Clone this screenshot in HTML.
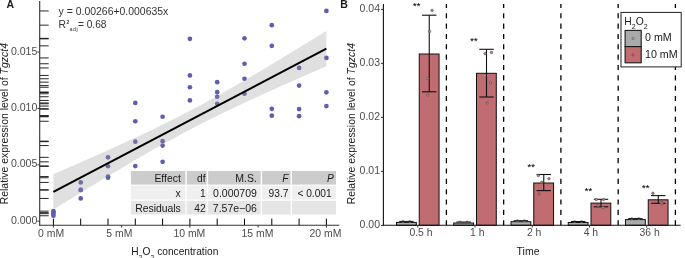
<!DOCTYPE html>
<html><head><meta charset="utf-8"><style>
html,body{margin:0;padding:0;background:#fff;overflow:hidden;}
svg{display:block;font-family:"Liberation Sans", sans-serif;}
</style></head><body><div style="will-change:transform">
<svg width="685" height="258" viewBox="0 0 685 258">
<rect width="685" height="258" fill="#fff"/>
<line x1="39.7" x2="48.7" y1="211.15" y2="211.15" stroke="#000" stroke-opacity="0.85" stroke-width="1"/>
<line x1="39.7" x2="48.7" y1="212.65" y2="212.65" stroke="#000" stroke-opacity="0.85" stroke-width="1"/>
<line x1="39.7" x2="48.7" y1="213.65" y2="213.65" stroke="#000" stroke-opacity="0.85" stroke-width="1"/>
<line x1="39.7" x2="48.7" y1="215.75" y2="215.75" stroke="#000" stroke-opacity="0.85" stroke-width="1"/>
<line x1="39.7" x2="48.7" y1="182.45" y2="182.45" stroke="#000" stroke-opacity="0.85" stroke-width="1"/>
<line x1="39.7" x2="48.7" y1="189.95" y2="189.95" stroke="#000" stroke-opacity="0.85" stroke-width="1"/>
<line x1="39.7" x2="48.7" y1="189.95" y2="189.95" stroke="#000" stroke-opacity="0.85" stroke-width="1"/>
<line x1="39.7" x2="48.7" y1="198.45" y2="198.45" stroke="#000" stroke-opacity="0.85" stroke-width="1"/>
<line x1="39.7" x2="48.7" y1="157.35" y2="157.35" stroke="#000" stroke-opacity="0.85" stroke-width="1"/>
<line x1="39.7" x2="48.7" y1="166.25" y2="166.25" stroke="#000" stroke-opacity="0.85" stroke-width="1"/>
<line x1="39.7" x2="48.7" y1="176.55" y2="176.55" stroke="#000" stroke-opacity="0.85" stroke-width="1"/>
<line x1="39.7" x2="48.7" y1="177.75" y2="177.75" stroke="#000" stroke-opacity="0.85" stroke-width="1"/>
<line x1="39.7" x2="48.7" y1="102.95" y2="102.95" stroke="#000" stroke-opacity="0.85" stroke-width="1"/>
<line x1="39.7" x2="48.7" y1="121.25" y2="121.25" stroke="#000" stroke-opacity="0.85" stroke-width="1"/>
<line x1="39.7" x2="48.7" y1="141.65" y2="141.65" stroke="#000" stroke-opacity="0.85" stroke-width="1"/>
<line x1="39.7" x2="48.7" y1="166.05" y2="166.05" stroke="#000" stroke-opacity="0.85" stroke-width="1"/>
<line x1="39.7" x2="48.7" y1="116.75" y2="116.75" stroke="#000" stroke-opacity="0.85" stroke-width="1"/>
<line x1="39.7" x2="48.7" y1="141.15" y2="141.15" stroke="#000" stroke-opacity="0.85" stroke-width="1"/>
<line x1="39.7" x2="48.7" y1="145.55" y2="145.55" stroke="#000" stroke-opacity="0.85" stroke-width="1"/>
<line x1="39.7" x2="48.7" y1="161.85" y2="161.85" stroke="#000" stroke-opacity="0.85" stroke-width="1"/>
<line x1="39.7" x2="48.7" y1="38.85" y2="38.85" stroke="#000" stroke-opacity="0.85" stroke-width="1"/>
<line x1="39.7" x2="48.7" y1="75.45" y2="75.45" stroke="#000" stroke-opacity="0.85" stroke-width="1"/>
<line x1="39.7" x2="48.7" y1="87.25" y2="87.25" stroke="#000" stroke-opacity="0.85" stroke-width="1"/>
<line x1="39.7" x2="48.7" y1="100.45" y2="100.45" stroke="#000" stroke-opacity="0.85" stroke-width="1"/>
<line x1="39.7" x2="48.7" y1="82.15" y2="82.15" stroke="#000" stroke-opacity="0.85" stroke-width="1"/>
<line x1="39.7" x2="48.7" y1="92.15" y2="92.15" stroke="#000" stroke-opacity="0.85" stroke-width="1"/>
<line x1="39.7" x2="48.7" y1="96.75" y2="96.75" stroke="#000" stroke-opacity="0.85" stroke-width="1"/>
<line x1="39.7" x2="48.7" y1="103.75" y2="103.75" stroke="#000" stroke-opacity="0.85" stroke-width="1"/>
<line x1="39.7" x2="48.7" y1="38.35" y2="38.35" stroke="#000" stroke-opacity="0.85" stroke-width="1"/>
<line x1="39.7" x2="48.7" y1="63.75" y2="63.75" stroke="#000" stroke-opacity="0.85" stroke-width="1"/>
<line x1="39.7" x2="48.7" y1="78.75" y2="78.75" stroke="#000" stroke-opacity="0.85" stroke-width="1"/>
<line x1="39.7" x2="48.7" y1="93.75" y2="93.75" stroke="#000" stroke-opacity="0.85" stroke-width="1"/>
<line x1="39.7" x2="48.7" y1="25.15" y2="25.15" stroke="#000" stroke-opacity="0.85" stroke-width="1"/>
<line x1="39.7" x2="48.7" y1="45.85" y2="45.85" stroke="#000" stroke-opacity="0.85" stroke-width="1"/>
<line x1="39.7" x2="48.7" y1="108.85" y2="108.85" stroke="#000" stroke-opacity="0.85" stroke-width="1"/>
<line x1="39.7" x2="48.7" y1="115.65" y2="115.65" stroke="#000" stroke-opacity="0.85" stroke-width="1"/>
<line x1="39.7" x2="48.7" y1="67.95" y2="67.95" stroke="#000" stroke-opacity="0.85" stroke-width="1"/>
<line x1="39.7" x2="48.7" y1="85.55" y2="85.55" stroke="#000" stroke-opacity="0.85" stroke-width="1"/>
<line x1="39.7" x2="48.7" y1="109.05" y2="109.05" stroke="#000" stroke-opacity="0.85" stroke-width="1"/>
<line x1="39.7" x2="48.7" y1="116.15" y2="116.15" stroke="#000" stroke-opacity="0.85" stroke-width="1"/>
<line x1="39.7" x2="48.7" y1="10.95" y2="10.95" stroke="#000" stroke-opacity="0.85" stroke-width="1"/>
<line x1="39.7" x2="48.7" y1="57.95" y2="57.95" stroke="#000" stroke-opacity="0.85" stroke-width="1"/>
<line x1="39.7" x2="48.7" y1="92.35" y2="92.35" stroke="#000" stroke-opacity="0.85" stroke-width="1"/>
<line x1="39.7" x2="48.7" y1="106.05" y2="106.05" stroke="#000" stroke-opacity="0.85" stroke-width="1"/>
<line x1="53.40" x2="53.40" y1="218.6" y2="225.3" stroke="#000" stroke-width="1"/>
<line x1="80.70" x2="80.70" y1="218.6" y2="225.3" stroke="#000" stroke-width="1"/>
<line x1="108.00" x2="108.00" y1="218.6" y2="225.3" stroke="#000" stroke-width="1"/>
<line x1="135.30" x2="135.30" y1="218.6" y2="225.3" stroke="#000" stroke-width="1"/>
<line x1="162.60" x2="162.60" y1="218.6" y2="225.3" stroke="#000" stroke-width="1"/>
<line x1="189.90" x2="189.90" y1="218.6" y2="225.3" stroke="#000" stroke-width="1"/>
<line x1="217.20" x2="217.20" y1="218.6" y2="225.3" stroke="#000" stroke-width="1"/>
<line x1="244.50" x2="244.50" y1="218.6" y2="225.3" stroke="#000" stroke-width="1"/>
<line x1="271.80" x2="271.80" y1="218.6" y2="225.3" stroke="#000" stroke-width="1"/>
<line x1="299.10" x2="299.10" y1="218.6" y2="225.3" stroke="#000" stroke-width="1"/>
<line x1="326.40" x2="326.40" y1="218.6" y2="225.3" stroke="#000" stroke-width="1"/>
<circle cx="53.40" cy="211.15" r="2.35" fill="#5e5eae"/>
<circle cx="53.40" cy="212.65" r="2.35" fill="#5e5eae"/>
<circle cx="53.40" cy="213.65" r="2.35" fill="#5e5eae"/>
<circle cx="53.40" cy="215.75" r="2.35" fill="#5e5eae"/>
<circle cx="80.70" cy="182.45" r="2.35" fill="#5e5eae"/>
<circle cx="80.70" cy="189.95" r="2.35" fill="#5e5eae"/>
<circle cx="80.70" cy="189.95" r="2.35" fill="#5e5eae"/>
<circle cx="80.70" cy="198.45" r="2.35" fill="#5e5eae"/>
<circle cx="108.00" cy="157.35" r="2.35" fill="#5e5eae"/>
<circle cx="108.00" cy="166.25" r="2.35" fill="#5e5eae"/>
<circle cx="108.00" cy="176.55" r="2.35" fill="#5e5eae"/>
<circle cx="108.00" cy="177.75" r="2.35" fill="#5e5eae"/>
<circle cx="135.30" cy="102.95" r="2.35" fill="#5e5eae"/>
<circle cx="135.30" cy="121.25" r="2.35" fill="#5e5eae"/>
<circle cx="135.30" cy="141.65" r="2.35" fill="#5e5eae"/>
<circle cx="135.30" cy="166.05" r="2.35" fill="#5e5eae"/>
<circle cx="162.60" cy="116.75" r="2.35" fill="#5e5eae"/>
<circle cx="162.60" cy="141.15" r="2.35" fill="#5e5eae"/>
<circle cx="162.60" cy="145.55" r="2.35" fill="#5e5eae"/>
<circle cx="162.60" cy="161.85" r="2.35" fill="#5e5eae"/>
<circle cx="189.90" cy="38.85" r="2.35" fill="#5e5eae"/>
<circle cx="189.90" cy="75.45" r="2.35" fill="#5e5eae"/>
<circle cx="189.90" cy="87.25" r="2.35" fill="#5e5eae"/>
<circle cx="189.90" cy="100.45" r="2.35" fill="#5e5eae"/>
<circle cx="217.20" cy="82.15" r="2.35" fill="#5e5eae"/>
<circle cx="217.20" cy="92.15" r="2.35" fill="#5e5eae"/>
<circle cx="217.20" cy="96.75" r="2.35" fill="#5e5eae"/>
<circle cx="217.20" cy="103.75" r="2.35" fill="#5e5eae"/>
<circle cx="244.50" cy="38.35" r="2.35" fill="#5e5eae"/>
<circle cx="244.50" cy="63.75" r="2.35" fill="#5e5eae"/>
<circle cx="244.50" cy="78.75" r="2.35" fill="#5e5eae"/>
<circle cx="244.50" cy="93.75" r="2.35" fill="#5e5eae"/>
<circle cx="271.80" cy="25.15" r="2.35" fill="#5e5eae"/>
<circle cx="271.80" cy="45.85" r="2.35" fill="#5e5eae"/>
<circle cx="271.80" cy="108.85" r="2.35" fill="#5e5eae"/>
<circle cx="271.80" cy="115.65" r="2.35" fill="#5e5eae"/>
<circle cx="299.10" cy="67.95" r="2.35" fill="#5e5eae"/>
<circle cx="299.10" cy="85.55" r="2.35" fill="#5e5eae"/>
<circle cx="299.10" cy="109.05" r="2.35" fill="#5e5eae"/>
<circle cx="299.10" cy="116.15" r="2.35" fill="#5e5eae"/>
<circle cx="326.40" cy="10.95" r="2.35" fill="#5e5eae"/>
<circle cx="326.40" cy="57.95" r="2.35" fill="#5e5eae"/>
<circle cx="326.40" cy="92.35" r="2.35" fill="#5e5eae"/>
<circle cx="326.40" cy="106.05" r="2.35" fill="#5e5eae"/>
<polygon fill="#999999" fill-opacity="0.3" points="53.40,174.18 54.77,173.59 56.13,173.00 57.49,172.41 58.86,171.82 60.23,171.23 61.59,170.63 62.95,170.04 64.32,169.45 65.69,168.85 67.05,168.26 68.42,167.67 69.78,167.07 71.14,166.48 72.51,165.88 73.88,165.28 75.24,164.69 76.61,164.09 77.97,163.49 79.34,162.89 80.70,162.30 82.06,161.70 83.43,161.10 84.80,160.50 86.16,159.89 87.53,159.29 88.89,158.69 90.25,158.09 91.62,157.48 92.99,156.88 94.35,156.27 95.72,155.67 97.08,155.06 98.44,154.45 99.81,153.85 101.17,153.24 102.54,152.63 103.91,152.02 105.27,151.40 106.64,150.79 108.00,150.18 109.37,149.57 110.73,148.95 112.09,148.33 113.46,147.72 114.83,147.10 116.19,146.48 117.56,145.86 118.92,145.24 120.28,144.62 121.65,144.00 123.02,143.37 124.38,142.75 125.75,142.12 127.11,141.49 128.47,140.86 129.84,140.23 131.21,139.60 132.57,138.97 133.94,138.33 135.30,137.70 136.67,137.06 138.03,136.42 139.40,135.78 140.76,135.14 142.12,134.50 143.49,133.85 144.85,133.20 146.22,132.56 147.59,131.91 148.95,131.26 150.31,130.60 151.68,129.95 153.05,129.29 154.41,128.63 155.78,127.97 157.14,127.31 158.50,126.64 159.87,125.98 161.24,125.31 162.60,124.64 163.97,123.97 165.33,123.29 166.70,122.62 168.06,121.94 169.43,121.26 170.79,120.57 172.16,119.89 173.52,119.20 174.89,118.51 176.25,117.82 177.62,117.13 178.98,116.43 180.34,115.73 181.71,115.03 183.08,114.33 184.44,113.62 185.81,112.91 187.17,112.20 188.54,111.49 189.90,110.78 191.27,110.06 192.63,109.34 194.00,108.62 195.36,107.89 196.73,107.16 198.09,106.44 199.46,105.70 200.82,104.97 202.19,104.23 203.55,103.50 204.92,102.75 206.28,102.01 207.65,101.27 209.01,100.52 210.38,99.77 211.74,99.02 213.11,98.26 214.47,97.51 215.84,96.75 217.20,95.99 218.57,95.23 219.93,94.46 221.30,93.70 222.66,92.93 224.03,92.16 225.39,91.39 226.76,90.61 228.12,89.84 229.49,89.06 230.85,88.28 232.22,87.50 233.58,86.71 234.95,85.93 236.31,85.14 237.68,84.36 239.04,83.57 240.41,82.78 241.77,81.98 243.14,81.19 244.50,80.39 245.87,79.60 247.23,78.80 248.60,78.00 249.96,77.20 251.33,76.40 252.69,75.59 254.06,74.79 255.42,73.98 256.79,73.18 258.15,72.37 259.52,71.56 260.88,70.75 262.25,69.94 263.61,69.12 264.98,68.31 266.34,67.49 267.70,66.68 269.07,65.86 270.44,65.04 271.80,64.23 273.17,63.41 274.53,62.59 275.89,61.76 277.26,60.94 278.62,60.12 279.99,59.30 281.35,58.47 282.72,57.65 284.09,56.82 285.45,55.99 286.81,55.17 288.18,54.34 289.55,53.51 290.91,52.68 292.27,51.85 293.64,51.02 295.00,50.19 296.37,49.36 297.74,48.52 299.10,47.69 300.47,46.86 301.83,46.02 303.19,45.19 304.56,44.35 305.93,43.52 307.29,42.68 308.65,41.84 310.02,41.01 311.38,40.17 312.75,39.33 314.12,38.49 315.48,37.65 316.84,36.81 318.21,35.97 319.57,35.13 320.94,34.29 322.31,33.45 323.67,32.61 325.04,31.77 326.40,30.93 326.40,66.25 325.04,66.84 323.67,67.43 322.31,68.03 320.94,68.62 319.57,69.21 318.21,69.80 316.84,70.39 315.48,70.99 314.12,71.58 312.75,72.17 311.38,72.77 310.02,73.36 308.65,73.96 307.29,74.55 305.93,75.15 304.56,75.75 303.19,76.34 301.83,76.94 300.47,77.54 299.10,78.14 297.74,78.74 296.37,79.34 295.00,79.94 293.64,80.54 292.27,81.14 290.91,81.74 289.55,82.35 288.18,82.95 286.81,83.56 285.45,84.16 284.09,84.77 282.72,85.37 281.35,85.98 279.99,86.59 278.62,87.20 277.26,87.81 275.89,88.42 274.53,89.03 273.17,89.64 271.80,90.26 270.44,90.87 269.07,91.48 267.70,92.10 266.34,92.72 264.98,93.33 263.61,93.95 262.25,94.57 260.88,95.19 259.52,95.82 258.15,96.44 256.79,97.06 255.42,97.69 254.06,98.32 252.69,98.94 251.33,99.57 249.96,100.20 248.60,100.83 247.23,101.47 245.87,102.10 244.50,102.74 243.14,103.37 241.77,104.01 240.41,104.65 239.04,105.30 237.68,105.94 236.31,106.58 234.95,107.23 233.58,107.88 232.22,108.53 230.85,109.18 229.49,109.83 228.12,110.49 226.76,111.14 225.39,111.80 224.03,112.46 222.66,113.13 221.30,113.79 219.93,114.46 218.57,115.12 217.20,115.79 215.84,116.47 214.47,117.14 213.11,117.82 211.74,118.50 210.38,119.18 209.01,119.86 207.65,120.54 206.28,121.23 204.92,121.92 203.55,122.61 202.19,123.31 200.82,124.00 199.46,124.70 198.09,125.40 196.73,126.11 195.36,126.81 194.00,127.52 192.63,128.23 191.27,128.94 189.90,129.66 188.54,130.38 187.17,131.10 185.81,131.82 184.44,132.54 183.08,133.27 181.71,134.00 180.34,134.73 178.98,135.46 177.62,136.20 176.25,136.94 174.89,137.68 173.52,138.42 172.16,139.17 170.79,139.92 169.43,140.67 168.06,141.42 166.70,142.17 165.33,142.93 163.97,143.69 162.60,144.45 161.24,145.21 159.87,145.97 158.50,146.74 157.14,147.51 155.78,148.28 154.41,149.05 153.05,149.82 151.68,150.60 150.31,151.38 148.95,152.16 147.59,152.94 146.22,153.72 144.85,154.50 143.49,155.29 142.12,156.08 140.76,156.87 139.40,157.66 138.03,158.45 136.67,159.24 135.30,160.04 133.94,160.84 132.57,161.64 131.21,162.43 129.84,163.24 128.47,164.04 127.11,164.84 125.75,165.65 124.38,166.45 123.02,167.26 121.65,168.07 120.28,168.88 118.92,169.69 117.56,170.50 116.19,171.31 114.83,172.13 113.46,172.94 112.09,173.76 110.73,174.57 109.37,175.39 108.00,176.21 106.64,177.03 105.27,177.85 103.91,178.67 102.54,179.49 101.17,180.31 99.81,181.14 98.44,181.96 97.08,182.79 95.72,183.61 94.35,184.44 92.99,185.27 91.62,186.10 90.25,186.92 88.89,187.75 87.53,188.58 86.16,189.42 84.80,190.25 83.43,191.08 82.06,191.91 80.70,192.74 79.34,193.58 77.97,194.41 76.61,195.25 75.24,196.08 73.88,196.92 72.51,197.75 71.14,198.59 69.78,199.43 68.42,200.27 67.05,201.10 65.69,201.94 64.32,202.78 62.95,203.62 61.59,204.46 60.23,205.30 58.86,206.14 57.49,206.98 56.13,207.83 54.77,208.67 53.40,209.51"/>
<line x1="53.40" y1="191.85" x2="326.40" y2="48.59" stroke="#000" stroke-width="2"/>
<line x1="39.7" y1="1" x2="39.7" y2="225.8" stroke="#333" stroke-width="1.1"/>
<line x1="39.2" y1="225.3" x2="339.4" y2="225.3" stroke="#333" stroke-width="1.1"/>
<line x1="37.4" x2="39.7" y1="221.20" y2="221.20" stroke="#333" stroke-width="1"/>
<text x="37.4" y="223.80" text-anchor="end" font-size="10.6" fill="#4d4d4d">0.000</text>
<line x1="37.4" x2="39.7" y1="164.80" y2="164.80" stroke="#333" stroke-width="1"/>
<text x="37.4" y="167.40" text-anchor="end" font-size="10.6" fill="#4d4d4d">0.005</text>
<line x1="37.4" x2="39.7" y1="108.40" y2="108.40" stroke="#333" stroke-width="1"/>
<text x="37.4" y="111.00" text-anchor="end" font-size="10.6" fill="#4d4d4d">0.010</text>
<line x1="37.4" x2="39.7" y1="52.00" y2="52.00" stroke="#333" stroke-width="1"/>
<text x="37.4" y="54.60" text-anchor="end" font-size="10.6" fill="#4d4d4d">0.015</text>
<line x1="53.40" x2="53.40" y1="225.3" y2="227.6" stroke="#333" stroke-width="1"/>
<text x="51.05" y="236.6" text-anchor="middle" font-size="10.45" fill="#4d4d4d">0 mM</text>
<line x1="121.65" x2="121.65" y1="225.3" y2="227.6" stroke="#333" stroke-width="1"/>
<text x="119.30" y="236.6" text-anchor="middle" font-size="10.45" fill="#4d4d4d">5 mM</text>
<line x1="189.90" x2="189.90" y1="225.3" y2="227.6" stroke="#333" stroke-width="1"/>
<text x="189.35" y="236.6" text-anchor="middle" font-size="10.45" fill="#4d4d4d">10 mM</text>
<line x1="258.15" x2="258.15" y1="225.3" y2="227.6" stroke="#333" stroke-width="1"/>
<text x="257.50" y="236.6" text-anchor="middle" font-size="10.45" fill="#4d4d4d">15 mM</text>
<line x1="326.40" x2="326.40" y1="225.3" y2="227.6" stroke="#333" stroke-width="1"/>
<text x="325.50" y="236.6" text-anchor="middle" font-size="10.45" fill="#4d4d4d">20 mM</text>
<text x="131.2" y="254.5" font-size="10.2" fill="#1a1a1a">H<tspan font-size="7" dy="5.1">2</tspan><tspan dy="-5.1">O</tspan><tspan font-size="7" dy="5.1">2</tspan><tspan dy="-5.1"> concentration</tspan></text>
<text transform="translate(8.2,123.7) rotate(-90)" text-anchor="middle" font-size="10.45" fill="#1a1a1a">Relative expression level of <tspan font-style="italic">Tgzct4</tspan></text>
<text x="6.6" y="8.1" font-size="10.5" font-weight="bold" fill="#1a1a1a">A</text>
<text x="58.6" y="15.4" font-size="10.45" fill="#333">y = 0.00266+0.000635x</text>
<text x="58.4" y="28" font-size="10.3" fill="#333">R</text>
<text x="66.4" y="24" font-size="5" font-weight="bold" fill="#333">2</text>
<text x="69.6" y="31.1" font-size="5.4" letter-spacing="0.45" fill="#333">adj</text>
<text x="77.9" y="28" font-size="10.2" fill="#333">= 0.68</text>
<rect x="130.90" y="171.00" width="54.50" height="13.60" fill="#cccccc"/>
<rect x="186.80" y="171.00" width="19.90" height="13.60" fill="#cccccc"/>
<rect x="208.10" y="171.00" width="52.60" height="13.60" fill="#cccccc"/>
<rect x="262.10" y="171.00" width="28.40" height="13.60" fill="#cccccc"/>
<rect x="291.90" y="171.00" width="44.10" height="13.60" fill="#cccccc"/>
<rect x="130.90" y="185.70" width="54.50" height="13.80" fill="#efefef"/>
<rect x="186.80" y="185.70" width="19.90" height="13.80" fill="#efefef"/>
<rect x="208.10" y="185.70" width="52.60" height="13.80" fill="#efefef"/>
<rect x="262.10" y="185.70" width="28.40" height="13.80" fill="#efefef"/>
<rect x="291.90" y="185.70" width="44.10" height="13.80" fill="#efefef"/>
<rect x="130.90" y="200.80" width="54.50" height="13.70" fill="#e5e5e5"/>
<rect x="186.80" y="200.80" width="19.90" height="13.70" fill="#e5e5e5"/>
<rect x="208.10" y="200.80" width="52.60" height="13.70" fill="#e5e5e5"/>
<rect x="262.10" y="200.80" width="28.40" height="13.70" fill="#e5e5e5"/>
<rect x="291.90" y="200.80" width="44.10" height="13.70" fill="#e5e5e5"/>
<text x="180.80" y="181.50" text-anchor="end" font-size="10.4" fill="#1a1a1a">Effect</text>
<text x="205.60" y="181.50" text-anchor="end" font-size="10.2" fill="#1a1a1a">df</text>
<text x="256.90" y="181.50" text-anchor="end" font-size="10.5" fill="#1a1a1a">M.S.</text>
<text x="288.40" y="181.50" text-anchor="end" font-size="10.2" fill="#1a1a1a"><tspan font-style="italic">F</tspan></text>
<text x="333.70" y="181.50" text-anchor="end" font-size="10.2" fill="#1a1a1a"><tspan font-style="italic">P</tspan></text>
<text x="180.80" y="197.10" text-anchor="end" font-size="10.4" fill="#1a1a1a">x</text>
<text x="205.60" y="197.10" text-anchor="end" font-size="10.2" fill="#1a1a1a">1</text>
<text x="256.90" y="197.10" text-anchor="end" font-size="10.5" fill="#1a1a1a">0.000709</text>
<text x="288.40" y="197.10" text-anchor="end" font-size="10.2" fill="#1a1a1a">93.7</text>
<text x="331.70" y="197.10" text-anchor="end" font-size="10.2" fill="#1a1a1a">&lt; 0.001</text>
<text x="180.80" y="212.15" text-anchor="end" font-size="10.4" fill="#1a1a1a">Residuals</text>
<text x="205.60" y="212.15" text-anchor="end" font-size="10.2" fill="#1a1a1a">42</text>
<text x="256.90" y="212.15" text-anchor="end" font-size="10.5" fill="#1a1a1a">7.57e−06</text>
<line x1="446.40" x2="446.40" y1="4.1" y2="225.3" stroke="#000" stroke-width="1.3" stroke-dasharray="5.1 5.25" stroke-dashoffset="1.25"/>
<line x1="503.65" x2="503.65" y1="4.1" y2="225.3" stroke="#000" stroke-width="1.3" stroke-dasharray="5.1 5.25" stroke-dashoffset="1.25"/>
<line x1="560.90" x2="560.90" y1="4.1" y2="225.3" stroke="#000" stroke-width="1.3" stroke-dasharray="5.1 5.25" stroke-dashoffset="1.25"/>
<line x1="618.15" x2="618.15" y1="4.1" y2="225.3" stroke="#000" stroke-width="1.3" stroke-dasharray="5.1 5.25" stroke-dashoffset="1.25"/>
<line x1="675.40" x2="675.40" y1="4.1" y2="225.3" stroke="#000" stroke-width="1.3" stroke-dasharray="5.1 5.25" stroke-dashoffset="1.25"/>
<rect x="396.50" y="222.40" width="19.80" height="2.90" fill="#aaaaaa" stroke="#111" stroke-width="1"/>
<circle cx="402.90" cy="221.40" r="1.1" fill="#bbb" stroke="#666" stroke-width="0.5"/>
<circle cx="409.90" cy="221.40" r="1.1" fill="#bbb" stroke="#666" stroke-width="0.5"/>
<line x1="399.20" x2="413.60" y1="221.40" y2="221.40" stroke="#111" stroke-width="1"/>
<rect x="419.25" y="54.00" width="19.80" height="171.30" fill="#c06c71" stroke="#111" stroke-width="1"/>
<line x1="429.25" x2="429.25" y1="15.20" y2="91.80" stroke="#111" stroke-width="1.1"/>
<line x1="422.05" x2="436.45" y1="15.20" y2="15.20" stroke="#111" stroke-width="1.1"/>
<line x1="422.05" x2="436.45" y1="91.80" y2="91.80" stroke="#111" stroke-width="1.1"/>
<circle cx="432.10" cy="10.40" r="1.2" fill="#b88a8e" stroke="#5e5050" stroke-width="0.7"/>
<circle cx="429.60" cy="31.40" r="1.2" fill="#b88a8e" stroke="#5e5050" stroke-width="0.7"/>
<circle cx="427.80" cy="78.50" r="1.2" fill="#b88a8e" stroke="#5e5050" stroke-width="0.7"/>
<circle cx="427.80" cy="95.10" r="1.2" fill="#b88a8e" stroke="#5e5050" stroke-width="0.7"/>
<text x="416.65" y="9.25" text-anchor="middle" font-size="9.2" fill="#000" stroke="#000" stroke-width="0.1">**</text>
<rect x="453.75" y="223.00" width="19.80" height="2.30" fill="#aaaaaa" stroke="#111" stroke-width="1"/>
<circle cx="460.15" cy="222.00" r="1.1" fill="#bbb" stroke="#666" stroke-width="0.5"/>
<circle cx="467.15" cy="222.00" r="1.1" fill="#bbb" stroke="#666" stroke-width="0.5"/>
<line x1="456.45" x2="470.85" y1="222.00" y2="222.00" stroke="#111" stroke-width="1"/>
<rect x="476.50" y="73.30" width="19.80" height="152.00" fill="#c06c71" stroke="#111" stroke-width="1"/>
<line x1="486.50" x2="486.50" y1="49.30" y2="97.00" stroke="#111" stroke-width="1.1"/>
<line x1="479.30" x2="493.70" y1="49.30" y2="49.30" stroke="#111" stroke-width="1.1"/>
<line x1="479.30" x2="493.70" y1="97.00" y2="97.00" stroke="#111" stroke-width="1.1"/>
<circle cx="485.10" cy="53.60" r="1.2" fill="#b88a8e" stroke="#5e5050" stroke-width="0.7"/>
<circle cx="491.50" cy="52.50" r="1.2" fill="#b88a8e" stroke="#5e5050" stroke-width="0.7"/>
<circle cx="490.50" cy="82.90" r="1.2" fill="#b88a8e" stroke="#5e5050" stroke-width="0.7"/>
<circle cx="487.10" cy="102.90" r="1.2" fill="#b88a8e" stroke="#5e5050" stroke-width="0.7"/>
<text x="473.90" y="44.10" text-anchor="middle" font-size="9.2" fill="#000" stroke="#000" stroke-width="0.1">**</text>
<rect x="511.00" y="221.70" width="19.80" height="3.60" fill="#aaaaaa" stroke="#111" stroke-width="1"/>
<circle cx="517.40" cy="220.70" r="1.1" fill="#bbb" stroke="#666" stroke-width="0.5"/>
<circle cx="524.40" cy="220.70" r="1.1" fill="#bbb" stroke="#666" stroke-width="0.5"/>
<line x1="513.70" x2="528.10" y1="220.70" y2="220.70" stroke="#111" stroke-width="1"/>
<rect x="533.75" y="183.00" width="19.80" height="42.30" fill="#c06c71" stroke="#111" stroke-width="1"/>
<line x1="543.75" x2="543.75" y1="174.50" y2="190.60" stroke="#111" stroke-width="1.1"/>
<line x1="536.55" x2="550.95" y1="174.50" y2="174.50" stroke="#111" stroke-width="1.1"/>
<line x1="536.55" x2="550.95" y1="190.60" y2="190.60" stroke="#111" stroke-width="1.1"/>
<circle cx="538.30" cy="175.60" r="1.2" fill="#b88a8e" stroke="#5e5050" stroke-width="0.7"/>
<circle cx="548.90" cy="178.70" r="1.2" fill="#b88a8e" stroke="#5e5050" stroke-width="0.7"/>
<circle cx="541.70" cy="182.20" r="1.2" fill="#b88a8e" stroke="#5e5050" stroke-width="0.7"/>
<circle cx="539.00" cy="194.10" r="1.2" fill="#b88a8e" stroke="#5e5050" stroke-width="0.7"/>
<text x="531.15" y="169.90" text-anchor="middle" font-size="9.2" fill="#000" stroke="#000" stroke-width="0.1">**</text>
<rect x="568.25" y="222.50" width="19.80" height="2.80" fill="#aaaaaa" stroke="#111" stroke-width="1"/>
<circle cx="574.65" cy="221.50" r="1.1" fill="#bbb" stroke="#666" stroke-width="0.5"/>
<circle cx="581.65" cy="221.50" r="1.1" fill="#bbb" stroke="#666" stroke-width="0.5"/>
<line x1="570.95" x2="585.35" y1="221.50" y2="221.50" stroke="#111" stroke-width="1"/>
<rect x="591.00" y="203.10" width="19.80" height="22.20" fill="#c06c71" stroke="#111" stroke-width="1"/>
<line x1="601.00" x2="601.00" y1="199.30" y2="206.80" stroke="#111" stroke-width="1.1"/>
<line x1="593.80" x2="608.20" y1="199.30" y2="199.30" stroke="#111" stroke-width="1.1"/>
<line x1="593.80" x2="608.20" y1="206.80" y2="206.80" stroke="#111" stroke-width="1.1"/>
<circle cx="596.30" cy="199.50" r="1.2" fill="#b88a8e" stroke="#5e5050" stroke-width="0.7"/>
<circle cx="603.50" cy="199.50" r="1.2" fill="#b88a8e" stroke="#5e5050" stroke-width="0.7"/>
<circle cx="598.00" cy="205.50" r="1.2" fill="#b88a8e" stroke="#5e5050" stroke-width="0.7"/>
<circle cx="603.00" cy="207.50" r="1.2" fill="#b88a8e" stroke="#5e5050" stroke-width="0.7"/>
<text x="588.40" y="193.90" text-anchor="middle" font-size="9.2" fill="#000" stroke="#000" stroke-width="0.1">**</text>
<rect x="625.50" y="219.60" width="19.80" height="5.70" fill="#aaaaaa" stroke="#111" stroke-width="1"/>
<circle cx="631.90" cy="218.60" r="1.1" fill="#bbb" stroke="#666" stroke-width="0.5"/>
<circle cx="638.90" cy="218.60" r="1.1" fill="#bbb" stroke="#666" stroke-width="0.5"/>
<line x1="628.20" x2="642.60" y1="218.60" y2="218.60" stroke="#111" stroke-width="1"/>
<rect x="648.25" y="199.80" width="19.80" height="25.50" fill="#c06c71" stroke="#111" stroke-width="1"/>
<line x1="658.25" x2="658.25" y1="195.60" y2="203.30" stroke="#111" stroke-width="1.1"/>
<line x1="651.05" x2="665.45" y1="195.60" y2="195.60" stroke="#111" stroke-width="1.1"/>
<line x1="651.05" x2="665.45" y1="203.30" y2="203.30" stroke="#111" stroke-width="1.1"/>
<circle cx="652.90" cy="193.30" r="1.2" fill="#b88a8e" stroke="#5e5050" stroke-width="0.7"/>
<circle cx="656.00" cy="201.50" r="1.2" fill="#b88a8e" stroke="#5e5050" stroke-width="0.7"/>
<circle cx="661.00" cy="202.50" r="1.2" fill="#b88a8e" stroke="#5e5050" stroke-width="0.7"/>
<circle cx="662.00" cy="204.00" r="1.2" fill="#b88a8e" stroke="#5e5050" stroke-width="0.7"/>
<text x="645.65" y="191.00" text-anchor="middle" font-size="9.2" fill="#000" stroke="#000" stroke-width="0.1">**</text>
<line x1="383.4" y1="4.1" x2="383.4" y2="225.8" stroke="#111" stroke-width="1.1"/>
<line x1="382.9" y1="225.3" x2="680.6" y2="225.3" stroke="#111" stroke-width="1.1"/>
<line x1="381" x2="383.4" y1="225.40" y2="225.40" stroke="#333" stroke-width="1"/>
<text x="380" y="228.00" text-anchor="end" font-size="10.5" fill="#4d4d4d">0.00</text>
<line x1="381" x2="383.4" y1="171.40" y2="171.40" stroke="#333" stroke-width="1"/>
<text x="380" y="174.00" text-anchor="end" font-size="10.5" fill="#4d4d4d">0.01</text>
<line x1="381" x2="383.4" y1="117.40" y2="117.40" stroke="#333" stroke-width="1"/>
<text x="380" y="120.00" text-anchor="end" font-size="10.5" fill="#4d4d4d">0.02</text>
<line x1="381" x2="383.4" y1="63.40" y2="63.40" stroke="#333" stroke-width="1"/>
<text x="380" y="66.00" text-anchor="end" font-size="10.5" fill="#4d4d4d">0.03</text>
<line x1="381" x2="383.4" y1="9.40" y2="9.40" stroke="#333" stroke-width="1"/>
<text x="380" y="12.00" text-anchor="end" font-size="10.5" fill="#4d4d4d">0.04</text>
<line x1="417.75" x2="417.75" y1="225.3" y2="227.6" stroke="#333" stroke-width="1"/>
<text x="421.00" y="236.4" text-anchor="middle" font-size="10.4" fill="#4d4d4d">0.5 h</text>
<line x1="475.00" x2="475.00" y1="225.3" y2="227.6" stroke="#333" stroke-width="1"/>
<text x="477.35" y="236.4" text-anchor="middle" font-size="10.4" fill="#4d4d4d">1 h</text>
<line x1="532.25" x2="532.25" y1="225.3" y2="227.6" stroke="#333" stroke-width="1"/>
<text x="534.15" y="236.4" text-anchor="middle" font-size="10.4" fill="#4d4d4d">2 h</text>
<line x1="589.50" x2="589.50" y1="225.3" y2="227.6" stroke="#333" stroke-width="1"/>
<text x="590.90" y="236.4" text-anchor="middle" font-size="10.4" fill="#4d4d4d">4 h</text>
<line x1="646.75" x2="646.75" y1="225.3" y2="227.6" stroke="#333" stroke-width="1"/>
<text x="649.60" y="236.4" text-anchor="middle" font-size="10.4" fill="#4d4d4d">36 h</text>
<text x="516.6" y="254.6" font-size="10.5" fill="#1a1a1a">Time</text>
<text transform="translate(354.7,123.7) rotate(-90)" text-anchor="middle" font-size="10.45" fill="#1a1a1a">Relative expression level of <tspan font-style="italic">Tgzct4</tspan></text>
<text x="340.3" y="8.1" font-size="10.5" font-weight="bold" fill="#1a1a1a">B</text>
<rect x="621" y="12.4" width="60.2" height="54.5" fill="#fff" stroke="#222" stroke-width="1"/>
<text x="624.3" y="24.9" font-size="10.3" fill="#1a1a1a">H<tspan font-size="7" dy="4">2</tspan><tspan dy="-4">O</tspan><tspan font-size="7" dy="4">2</tspan></text>
<rect x="625.1" y="30.4" width="16.1" height="16.2" fill="#aaaaaa" stroke="#1a1a1a" stroke-width="1.1"/>
<rect x="625.1" y="46.6" width="16.1" height="16.2" fill="#c06c71" stroke="#1a1a1a" stroke-width="1.1"/>
<circle cx="633" cy="38.5" r="1.1" fill="none" stroke="#555" stroke-width="0.6"/>
<circle cx="633" cy="55" r="1.1" fill="none" stroke="#6a3a40" stroke-width="0.6"/>
<text x="645.0" y="40.5" font-size="10.7" fill="#1a1a1a">0 mM</text>
<text x="645.0" y="57.6" font-size="10.7" fill="#1a1a1a">10 mM</text>
</svg></div></body></html>
